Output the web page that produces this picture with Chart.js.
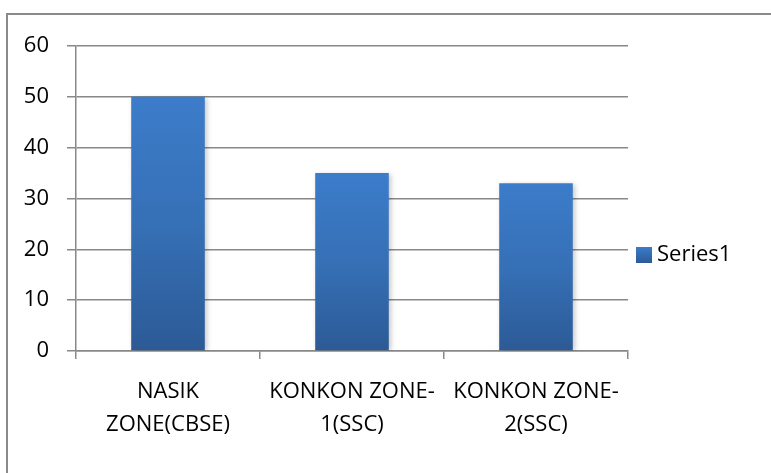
<!DOCTYPE html>
<html><head><meta charset="utf-8">
<script src="https://cdn.jsdelivr.net/npm/chart.js@4"></script>
<style>
html,body{margin:0;padding:0;background:#fff;}
#wrap{position:relative;width:771px;height:473px;overflow:hidden;}
#frame{position:absolute;left:6px;top:13px;width:770px;height:470px;border-top:2px solid #8a8a8a;border-left:2px solid #8a8a8a;box-sizing:border-box;}
canvas{position:absolute;left:0;top:0;}
</style></head>
<body><div id="wrap"><div id="frame"></div><canvas id="c" width="771" height="473"></canvas></div>
<script>
const categories = [["NASIK","ZONE(CBSE)"],["KONKON ZONE-","1(SSC)"],["KONKON ZONE-","2(SSC)"]];
const seriesName = "Series1";
const values = [50, 35, 33];
const yTicks = [0,10,20,30,40,50,60];

const FONT = "'Open Sans', sans-serif";
const FSIZE = 22;

function barGradient(ctx){
  const chart = ctx.chart;
  const ca = chart.chartArea;
  if(!ca) return '#3a77c2';
  const ys = chart.scales.y;
  const top = ys.getPixelForValue(ctx.raw);
  const bottom = ys.getPixelForValue(0);
  const g = chart.ctx.createLinearGradient(0, top, 0, bottom);
  g.addColorStop(0, '#3c7cca');
  g.addColorStop(0.5, '#3670b6');
  g.addColorStop(1, '#2c5a96');
  return g;
}

const shadowPlugin = {
  id:'shadow',
  beforeDatasetsDraw(chart){
    const c=chart.ctx; c.save();
    c.shadowColor='rgba(0,0,0,0.22)'; c.shadowBlur=5; c.shadowOffsetX=2; c.shadowOffsetY=1;
  },
  afterDatasetsDraw(chart){ chart.ctx.restore(); }
};

const legendPlugin = {
  id:'customLegend',
  afterDraw(chart){
    const c=chart.ctx; c.save();
    const x=636, y=247;
    const g=c.createLinearGradient(0,y,0,y+16);
    g.addColorStop(0,'#3c7cca'); g.addColorStop(1,'#2c5a96');
    c.fillStyle=g; c.fillRect(x,y,16,16);
    c.fillStyle='#000'; c.font=FSIZE+"px "+FONT; c.textBaseline='middle'; c.textAlign='left';
    c.fillText(seriesName, x+21, y+8);
    c.restore();
  }
};

new Chart(document.getElementById('c'), {
  type:'bar',
  data:{ labels:categories, datasets:[{ label:seriesName, data:values, backgroundColor:barGradient, borderWidth:0, barPercentage:0.8, categoryPercentage:0.5 }]},
  options:{
    responsive:false, animation:false,
    layout:{padding:{left:0,right:143,top:46,bottom:0}},
    plugins:{legend:{display:false}, tooltip:{enabled:false}},
    scales:{
      y:{
        min:0,max:60,
        afterBuildTicks(s){ s.ticks = yTicks.map(v=>({value:v})); },
        afterFit(s){ s.width=76; },
        ticks:{color:'#000',font:{family:FONT,size:FSIZE},padding:18},
        grid:{color:'#888',lineWidth:1.5,tickLength:9},
        border:{display:true,color:'#888',width:1.5}
      },
      x:{
        offset:true,
        afterFit(s){ s.height=122; },
        ticks:{color:'#000',font:{family:FONT,size:FSIZE,lineHeight:1.5},padding:16,maxRotation:0,autoSkip:false},
        grid:{offset:true,drawOnChartArea:false,color:'#888',lineWidth:1.5,tickLength:8},
        border:{display:true,color:'#888',width:1.5}
      }
    }
  },
  plugins:[shadowPlugin, legendPlugin]
});
</script></body></html>
